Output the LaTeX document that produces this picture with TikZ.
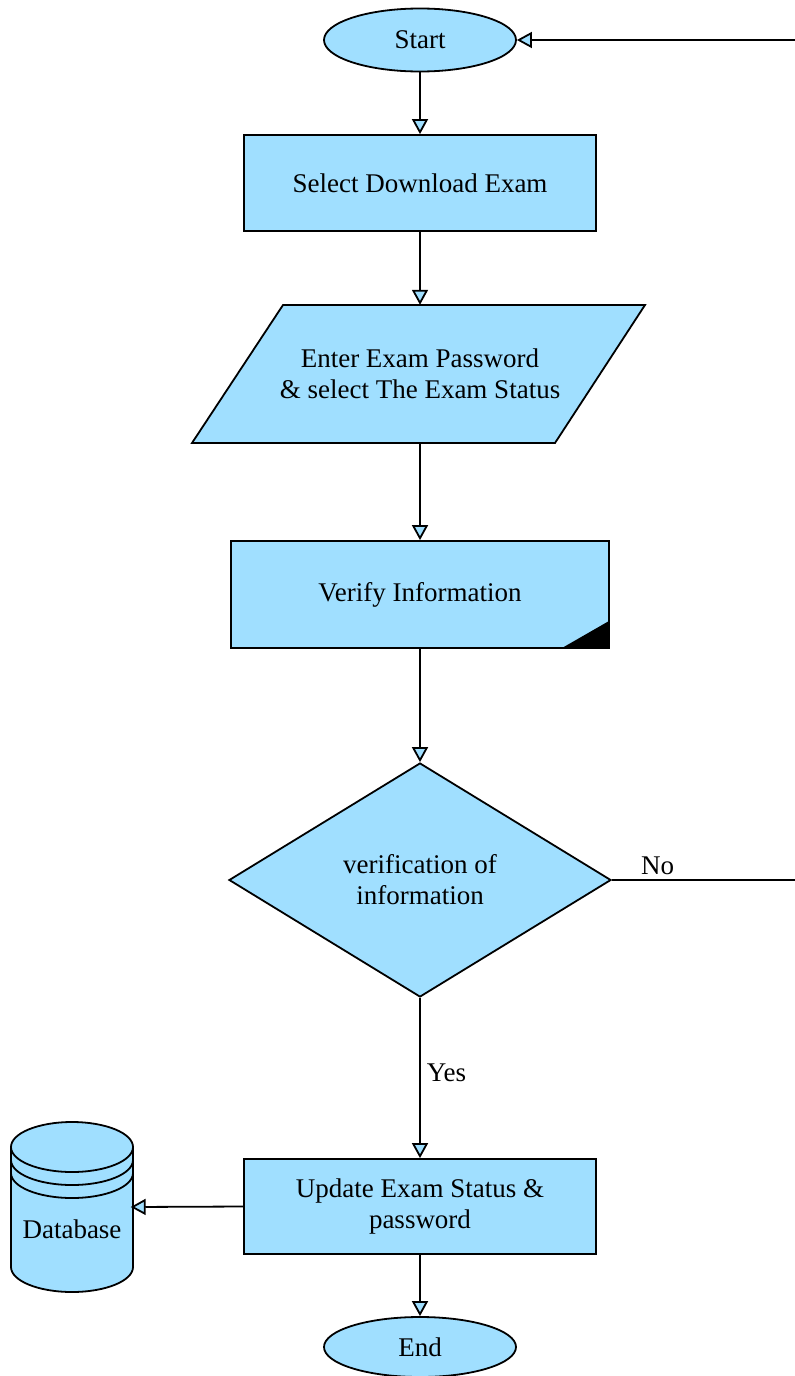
\documentclass[tikz,border=0pt]{standalone}
\usepackage{fontspec}
\setmainfont{Liberation Serif}
\usetikzlibrary{arrows.meta,shapes.geometric}
\definecolor{boxc}{HTML}{A0DFFF}
\begin{document}
\begin{tikzpicture}[x=1pt,y=1pt,
  every node/.style={font=\fontsize{27}{31}\selectfont, align=center, inner sep=0pt},
  lw/.style={line width=1.8pt},
  boxnode/.style={lw, draw=black, fill=boxc, rectangle},
  term/.style={lw, draw=black, fill=boxc, ellipse, minimum width=192pt, minimum height=63pt},
  conn/.style={lw, -{Triangle[width=16pt,length=15pt,fill=boxc,line width=1.8pt]}},
  plain/.style={lw}]
\useasboundingbox (0,0) rectangle (795,-1376);
% Start
\node[term] (start) at (420,-40) {Start};
% Select Download Exam
\node[boxnode, minimum width=352pt, minimum height=96pt] (sel) at (420,-183) {\raisebox{-2pt}{Select Download Exam}};
% Parallelogram
\draw[lw, fill=boxc] (283,-305) -- (645,-305) -- (555,-443) -- (192,-443) -- cycle;
\node[minimum width=300pt, minimum height=138pt] (par) at (420,-374) {Enter Exam Password\\\& select The Exam Status};
% Verify Information
\node[boxnode, minimum width=378pt, minimum height=107pt] (ver) at (420,-594.5) {Verify Information};
\fill[black] (562,-648) -- (609,-621) -- (609,-648) -- cycle;
% Diamond
\node[lw, draw=black, fill=boxc, diamond, minimum width=382pt, minimum height=234pt] (dia) at (420,-880) {verification of\\information};
% Update
\node[boxnode, minimum width=352pt, minimum height=95pt] (upd) at (420,-1206.5) {Update Exam Status \&\\password};
% End
\node[term, minimum height=60pt] (end) at (420,-1347) {End};
% Database cylinder
\draw[lw, fill=boxc] (11,-1147) -- (11,-1267) arc[start angle=180, end angle=360, x radius=61, y radius=25] -- (133,-1147) arc[start angle=0, end angle=180, x radius=61, y radius=25] -- cycle;
\draw[lw] (11,-1147) arc[start angle=180, end angle=360, x radius=61, y radius=25];
\draw[lw] (11,-1160) arc[start angle=180, end angle=360, x radius=61, y radius=25];
\draw[lw] (11,-1173) arc[start angle=180, end angle=360, x radius=61, y radius=25];
\node[minimum width=117pt, minimum height=120pt] (db) at (72,-1207) {};
\node at (72,-1229) {Database};
% right edge coordinates
\coordinate (rno) at (795,-880);
\coordinate (rstart) at (795,-40);
% connectors
\draw[conn] (start.south) -- (sel.north);
\draw[conn] (sel.south) -- (par.north);
\draw[conn] (par.south) -- (ver.north);
\draw[conn] (ver.south) -- (dia.north);
\draw[conn] (dia.south) -- node[right=6pt, pos=0.47] {Yes} (upd.north);
\draw[conn] (upd.south) -- (end.north);
\draw[conn] (upd.west) -- (db.east);
\draw[plain] (dia.east) -- node[above=4pt, pos=0.25] {No} (rno);
\draw[conn] (rstart) -- (start.east);
\end{tikzpicture}
\end{document}
